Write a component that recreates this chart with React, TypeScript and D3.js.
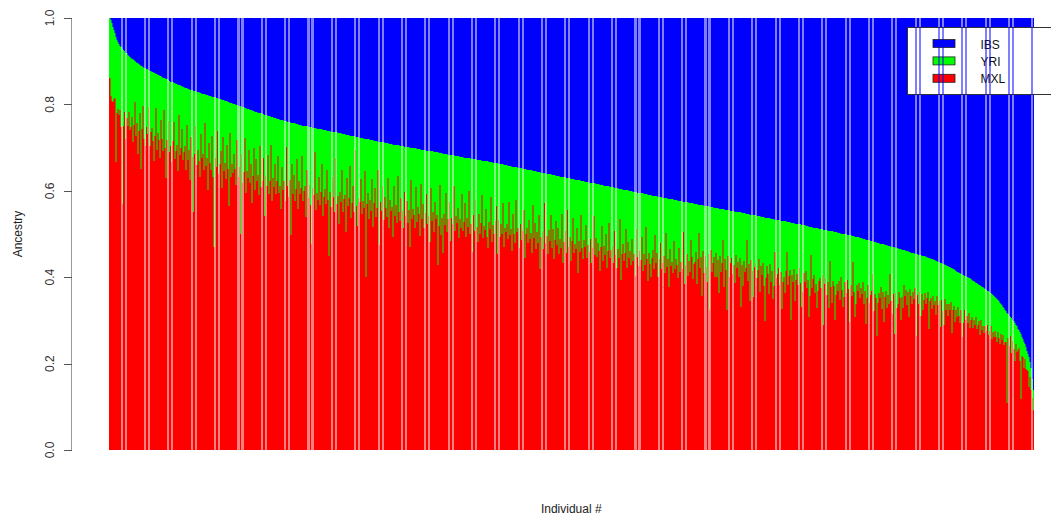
import React from "react";
import * as d3 from "d3";

// Ancestry proportions per individual (per-mille), in the order shown in the figure.
const IBS_PERMILLE: number[] = [
  0,5,12,20,28,35,43,50,55,60,64,68,71,74,77,80,82,85,87,90,92,
  94,96,98,100,102,104,105,107,109,110,
  112,113,115,116,118,119,120,122,123,
  124,125,127,128,129,130,131,133,134,135,
  136,138,139,140,141,142,144,145,147,
  148,149,150,151,152,153,154,155,156,157,
  158,159,160,161,162,163,164,165,166,166,167,168,169,170,171,171,172,173,174,
  175,175,176,177,178,178,179,180,181,181,182,183,184,184,185,186,187,187,188,189,190,190,191,192,
  193,194,195,196,197,197,198,199,200,201,202,203,204,204,205,206,207,208,209,210,210,211,212,213,
  214,215,216,217,217,218,219,220,221,221,222,223,224,225,225,226,227,228,229,229,230,231,232,232,
  233,234,234,235,236,236,237,238,238,239,240,240,241,242,242,243,244,244,245,246,246,247,248,248,
  249,249,250,250,251,251,252,252,253,253,254,254,255,255,256,256,257,257,258,258,259,259,260,260,261,261,262,262,263,263,264,264,265,265,266,266,267,267,268,268,269,269,270,270,271,271,272,273,
  273,274,274,275,275,276,276,277,277,278,278,279,279,280,280,281,281,282,282,283,283,284,284,285,285,286,286,287,287,288,288,289,289,290,290,291,291,292,292,293,293,294,294,295,295,295,296,296,
  297,297,298,298,299,299,299,300,300,301,301,302,302,302,303,303,304,304,305,305,305,306,306,307,307,308,308,308,309,309,310,310,311,311,311,312,312,313,313,314,314,314,315,315,316,316,317,317,
  318,318,319,319,320,320,320,321,321,322,322,323,323,323,324,324,325,325,326,326,326,327,327,328,328,329,329,329,330,330,331,331,332,332,332,333,333,334,334,335,335,335,336,336,337,337,338,
  339,339,340,340,341,341,342,342,343,343,344,344,345,345,346,346,347,347,348,348,349,349,350,350,351,351,352,352,353,353,354,354,355,355,356,356,357,357,358,358,359,359,360,360,361,361,362,362,
  363,363,364,364,365,365,366,366,367,367,368,368,369,369,370,370,371,371,372,372,373,373,374,374,375,375,376,376,377,377,378,378,379,379,380,380,381,381,382,382,383,383,384,384,385,385,386,386,
  387,387,388,388,389,389,390,390,391,391,392,392,393,393,394,394,395,395,396,396,397,397,398,398,399,399,400,400,401,401,402,402,403,403,404,404,405,405,406,406,407,407,408,408,409,409,410,410,
  411,411,412,412,413,413,414,414,415,415,416,416,416,417,417,418,418,419,419,420,420,421,421,422,422,423,423,424,424,425,425,426,426,427,427,428,428,428,429,429,430,430,431,431,432,432,433,433,
  434,434,435,435,436,436,436,437,437,438,438,439,439,440,440,440,441,441,442,442,443,443,444,444,445,445,445,446,446,447,447,448,448,449,449,450,450,450,451,451,452,452,453,453,454,454,455,455,
  456,456,457,457,458,458,459,459,460,460,461,461,462,462,463,463,464,464,465,465,466,466,467,467,467,468,468,469,469,470,470,471,471,472,472,473,473,474,474,475,475,476,476,477,477,478,478,
  479,479,480,480,481,481,482,483,483,484,484,485,485,486,486,487,487,488,488,489,489,490,490,491,491,492,492,493,493,494,494,495,495,496,496,497,498,498,499,499,500,500,501,501,502,502,503,503,
  504,504,505,506,506,507,508,508,509,510,510,511,512,512,513,514,514,515,516,516,517,518,518,519,520,520,521,522,522,523,524,524,525,526,526,527,528,528,529,530,530,531,532,532,533,534,534,535,
  536,537,537,538,539,540,540,541,542,543,543,544,545,546,546,547,548,549,549,550,551,552,552,553,554,555,555,556,557,558,559,560,
  561,562,563,564,565,566,568,569,570,571,572,573,575,576,577,578,
  579,581,582,584,585,587,588,590,591,592,594,595,597,598,599,600,
  602,603,605,606,608,609,611,613,614,616,617,619,620,622,623,625,
  627,629,631,633,635,637,639,641,643,645,648,650,653,656,659,662,
  665,669,672,675,679,682,
  685,689,692,695,698,702,705,
  710,714,719,723,728,732,
  738,744,750,755,
  762,770,778,785,
  797,810,835,860,
];

const YRI_PERMILLE: number[] = [
  140,175,180,175,160,150,290,170,155,165,150,185,360,175,140,200,150,165,130,170,
  160,135,190,150,95,170,140,210,155,110,240,145,90,165,180,135,150,85,175,140,
  130,160,205,145,80,175,135,150,190,100,145,170,75,160,230,140,95,165,150,185,
  135,90,175,155,140,200,70,160,145,100,170,150,135,190,85,165,140,210,110,155,
  280,145,80,170,135,160,195,95,150,140,175,65,165,145,220,110,155,170,90,185,
  345,140,160,75,175,150,120,205,85,165,145,180,100,155,240,70,170,140,160,115,
  150,185,80,165,140,296,110,175,150,70,195,145,160,95,170,125,215,150,85,180,
  110,160,145,190,75,170,155,100,235,140,165,90,180,150,65,195,140,160,105,175,
  145,85,170,155,205,110,160,140,185,60,150,175,135,260,95,165,120,180,150,80,
  195,130,160,145,70,175,150,140,210,100,165,135,180,270,140,155,55,190,150,165,
  110,175,145,80,200,155,135,170,90,160,290,140,175,105,150,185,60,165,145,210,
  135,160,85,180,150,140,225,100,165,145,70,190,155,115,175,30,160,205,140,150,
  95,175,145,160,75,320,150,125,185,140,165,90,200,145,110,175,155,65,240,140,
  160,100,180,125,150,170,80,195,130,155,145,215,95,165,140,180,70,155,175,120,
  150,190,105,160,125,175,145,230,75,165,140,155,185,90,170,135,150,200,80,160,
  125,180,145,100,170,150,210,85,160,140,185,115,155,145,260,170,75,190,150,230,
  140,165,90,180,150,110,200,145,160,70,175,140,155,120,190,145,165,85,170,150,
  105,185,140,160,75,175,150,215,130,165,95,155,190,125,170,145,80,180,150,160,
  110,175,200,140,155,80,185,145,165,135,100,210,130,170,140,160,90,190,145,155,
  135,170,85,160,145,195,110,155,175,75,150,140,185,130,165,145,95,205,150,135,
  170,115,160,145,190,80,155,120,180,140,165,100,225,150,135,175,70,160,145,185,
  130,155,95,170,125,195,150,105,160,120,180,145,165,85,200,150,125,175,75,160,
  135,190,145,90,170,150,160,110,215,140,165,80,155,180,135,150,100,175,145,160,
  130,185,150,75,165,125,170,135,155,200,145,95,175,140,160,110,190,150,85,165,
  145,135,175,100,155,185,140,160,70,210,150,125,165,145,90,180,120,155,140,170,
  110,160,145,195,85,150,170,135,155,100,180,140,165,75,150,200,135,160,190,145,
  125,170,90,155,130,185,145,105,165,150,135,175,80,160,140,205,115,155,145,170,
  95,160,135,150,180,110,165,140,155,70,190,145,120,170,135,160,85,125,175,140,
  135,110,185,125,65,145,120,210,105,155,115,140,175,110,240,100,150,130,115,160,
  105,160,120,195,110,145,125,70,180,115,140,230,105,155,120,110,145,125,165,100,
  130,115,150,105,220,120,170,110,135,125,60,155,115,200,105,130,190,120,110,145,
  125,100,175,115,135,105,160,240,140,110,130,175,105,145,120,185,155,75,135,125,
  110,150,120,205,140,130,165,115,70,145,125,110,225,120,135,105,180,130,115,140,
  100,135,190,155,110,130,105,145,125,210,160,65,140,120,110,150,130,185,145,120,
  115,135,105,220,125,110,150,120,180,70,130,165,115,125,205,145,120,135,110,155,
  100,130,170,145,110,135,105,125,200,115,140,60,130,185,155,110,125,105,140,115,
  130,100,150,120,195,135,105,145,125,115,75,160,120,130,215,140,115,125,100,150,
  110,180,120,105,145,115,135,65,125,155,110,200,105,140,130,100,115,165,110,135,
  80,105,90,125,95,150,85,100,120,90,105,80,190,95,115,85,140,90,125,100,
  85,110,95,80,165,100,90,115,85,105,95,125,80,100,90,150,85,110,140,80,
  105,90,115,85,100,80,150,95,85,120,90,105,80,100,115,85,145,110,80,100,
  90,105,80,115,95,85,110,90,100,80,105,95,85,115,80,100,90,105,85,95,
  80,100,90,75,105,85,95,80,90,100,75,85,95,70,80,65,85,75,70,210,
  55,70,45,80,50,65,90,45,60,50,40,65,150,45,40,60,35,50,45,40,70,35,50,45,47,
];
// MXL is the remaining share of each individual's ancestry (proportions sum to 1).

const STACK_ORDER = ["MXL", "YRI", "IBS"];
const LEGEND_LABELS = ["IBS", "YRI", "MXL"];
const POP_COLORS: Record<string, string> = { IBS: "#0000ff", YRI: "#00ff00", MXL: "#ff0000" };
const Y_TICKS = [0, 0.2, 0.4, 0.6, 0.8, 1.0];
const X_TITLE = "Individual #";
const Y_TITLE = "Ancestry";

const W = 1051;
const H = 518;
const PLOT_LEFT = 109;
const PLOT_RIGHT = 1033.5;
const PLOT_TOP = 18;
const PLOT_BOTTOM = 450;
const BAR_GAP = 0.09;
const SAMPLE_SHIFT = 0.866;
const FONT = "'Liberation Sans', Arial, Helvetica, sans-serif";
const LEG = { x: 907.5, y: 27.5, w: 160, h: 67, keyX: 933, keyW: 22, keyH: 8, textX: 980.5, row0: 43.5, rowStep: 17.4 };

type Row = { IBS: number; YRI: number; MXL: number };

export default function App() {
  const n = Math.min(IBS_PERMILLE.length, YRI_PERMILLE.length);
  const ids = d3.range(n);
  const rows: Row[] = ids.map((i) => {
    const IBS = IBS_PERMILLE[i] / 1000;
    const YRI = YRI_PERMILLE[i] / 1000;
    return { IBS, YRI, MXL: Math.max(0, 1 - IBS - YRI) };
  });
  const stacked = d3.stack<Row, string>().keys(STACK_ORDER)(rows);

  const x = d3
    .scaleBand<number>()
    .domain(ids)
    .range([PLOT_LEFT, PLOT_RIGHT])
    .paddingInner(BAR_GAP)
    .paddingOuter(0);
  const y = d3.scaleLinear().domain([0, 1]).range([PLOT_BOTTOM, PLOT_TOP]);
  const bw = x.bandwidth();

  const barRects = (dx: number, prefix: string) =>
    stacked.flatMap((s) =>
      s.map((d, i) => (
        <rect
          key={`${prefix}-${s.key}-${i}`}
          x={(x(i) as number) + dx}
          y={y(d[1])}
          width={bw}
          height={Math.max(0, y(d[0]) - y(d[1]))}
          fill={POP_COLORS[s.key]}
        />
      ))
    );

  const legendGaps: React.ReactNode[] = [];
  [0, SAMPLE_SHIFT].forEach((dx, k) => {
    for (let i = 0; i < n - 1; i++) {
      const g0 = (x(i) as number) + bw + dx;
      const g1 = (x(i + 1) as number) + dx;
      if (g1 < LEG.x || g0 > LEG.x + LEG.w) continue;
      legendGaps.push(
        <rect key={`lg-${k}-${i}`} x={g0} y={LEG.y - 0.5} width={g1 - g0} height={LEG.h + 1} fill="#0000ff" opacity={0.5} />
      );
    }
  });

  return (
    <div style={{ position: "absolute", left: 0, top: 0 }}>
      <svg width={W} height={H} style={{ display: "block", background: "#fff" }} fontFamily={FONT}>
        <rect width={W} height={H} fill="#fff" />
        <g shapeRendering="crispEdges">{barRects(0, "a")}</g>
        <g opacity={0.5} shapeRendering="crispEdges">
          <rect
            x={PLOT_LEFT + SAMPLE_SHIFT}
            y={y(1)}
            width={PLOT_RIGHT - PLOT_LEFT}
            height={y(0) - y(1)}
            fill="#fff"
          />
          {barRects(SAMPLE_SHIFT, "b")}
        </g>

        {/* y axis */}
        <g shapeRendering="crispEdges">
          <line x1={71.5} x2={71.5} y1={y(0)} y2={y(1)} stroke="#999" strokeWidth={1} />
          {Y_TICKS.map((t) => (
            <line key={t} x1={64} x2={72} y1={Math.round(y(t)) + 0.5} y2={Math.round(y(t)) + 0.5} stroke="#555" strokeWidth={1} />
          ))}
        </g>
        {Y_TICKS.map((t) => (
          <text
            key={t}
            transform={`translate(53.5,${y(t)}) rotate(-90)`}
            textAnchor="middle"
            fontSize={12}
            fill="#333"
          >
            {t.toFixed(1)}
          </text>
        ))}
        <text transform={`translate(22,${(PLOT_TOP + PLOT_BOTTOM) / 2}) rotate(-90)`} textAnchor="middle" fontSize={12} fill="#222">
          {Y_TITLE}
        </text>
        <text x={(PLOT_LEFT + PLOT_RIGHT) / 2} y={512.5} textAnchor="middle" fontSize={12} fill="#222">
          {X_TITLE}
        </text>

        {/* legend */}
        <rect x={LEG.x} y={LEG.y} width={LEG.w} height={LEG.h} fill="#fff" stroke="#333" strokeWidth={1} shapeRendering="crispEdges" />
        {LEGEND_LABELS.map((lab, k) => {
          const cy = LEG.row0 + k * LEG.rowStep;
          return (
            <g key={lab}>
              <rect x={LEG.keyX} y={cy - LEG.keyH / 2} width={LEG.keyW} height={LEG.keyH} fill={POP_COLORS[lab]} stroke="#222" strokeWidth={0.8} />
              <text x={LEG.textX} y={cy + 5} fontSize={12} fill="#111">
                {lab}
              </text>
            </g>
          );
        })}
        <g shapeRendering="crispEdges">{legendGaps}</g>
      </svg>
    </div>
  );
}
